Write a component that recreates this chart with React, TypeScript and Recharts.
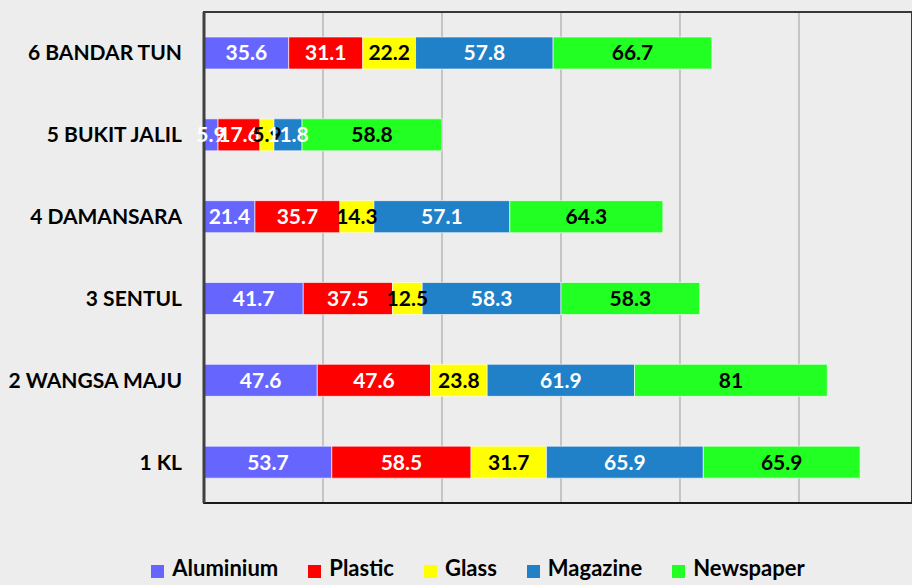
import { BarChart, Bar, XAxis, YAxis, Legend, LabelList, CartesianGrid, ReferenceArea } from 'recharts';

const areas = ['6 BANDAR TUN', '5 BUKIT JALIL', '4 DAMANSARA', '3 SENTUL', '2 WANGSA MAJU', '1 KL'];
const aluminium = [35.6, 5.9, 21.4, 41.7, 47.6, 53.7];
const plastic = [31.1, 17.6, 35.7, 37.5, 47.6, 58.5];
const glass = [22.2, 5.9, 14.3, 12.5, 23.8, 31.7];
const magazine = [57.8, 11.8, 57.1, 58.3, 61.9, 65.9];
const newspaper = [66.7, 58.8, 64.3, 58.3, 81, 65.9];
const xTicks = [0, 50, 100, 150, 200, 250];
const xMax = 297.5;

const data = areas.map((name, i) => ({
  name,
  Aluminium: aluminium[i],
  Plastic: plastic[i],
  Glass: glass[i],
  Magazine: magazine[i],
  Newspaper: newspaper[i],
}));

const series = [
  { key: 'Aluminium', color: '#6666ff', text: '#ffffff' },
  { key: 'Plastic', color: '#ff0000', text: '#ffffff' },
  { key: 'Glass', color: '#ffff00', text: '#000000' },
  { key: 'Magazine', color: '#2080c8', text: '#ffffff' },
  { key: 'Newspaper', color: '#22ff22', text: '#000000' },
];

const font = 'Lato, "Open Sans", sans-serif';

const App = () => {
  return (
    <div style={{ width: 912, height: 585, background: '#ededed', fontFamily: font }}>
      <style>{'body { margin: 0; background: #ededed; overflow: hidden; }'}</style>
      <BarChart
        width={912}
        height={585}
        layout="vertical"
        data={data}
        barSize={32}
        margin={{ top: 12, right: 0, left: 8, bottom: 0 }}
      >
        <CartesianGrid horizontal={false} stroke="#c4c4c4" strokeWidth={2} />
        <XAxis
          type="number"
          domain={[0, xMax]}
          ticks={xTicks}
          tick={() => <g />}
          tickLine={false}
          height={52}
          axisLine={{ stroke: '#1a1a1a', strokeWidth: 2 }}
        />
        <YAxis
          dataKey="name"
          type="category"
          width={196}
          tickSize={0}
          tickMargin={22}
          tickLine={false}
          axisLine={{ stroke: '#404040', strokeWidth: 3 }}
          tick={{ fill: '#000000', fontSize: 21, fontWeight: 700, fontFamily: font }}
        />
        <Legend
          verticalAlign="bottom"
          height={30}
          iconType="square"
          iconSize={13}
          wrapperStyle={{ paddingLeft: 66, boxSizing: 'border-box', lineHeight: '26px' }}
          itemSorter={(item: any) => series.findIndex((s) => s.key === item.dataKey)}
          formatter={(value) => (
            <span style={{ color: '#000000', fontSize: 22, fontWeight: 700, fontFamily: font, marginLeft: 4, marginRight: 20 }}>{value}</span>
          )}
        />
        {series.map((s) => (
          <Bar
            key={s.key}
            dataKey={s.key}
            stackId="a"
            fill={s.color}
            stroke="#ffffff"
            strokeOpacity={0.6}
            strokeWidth={1}
            isAnimationActive={false}
          >
            <LabelList
              dataKey={s.key}
              position="center"
              fill={s.text}
              style={{ fontSize: 21, fontWeight: 700, fontFamily: font }}
            />
          </Bar>
        ))}
        <ReferenceArea x1={0} x2={xMax} fill="none" stroke="#383838" strokeWidth={2} />
      </BarChart>
    </div>
  );
};

export default App;
